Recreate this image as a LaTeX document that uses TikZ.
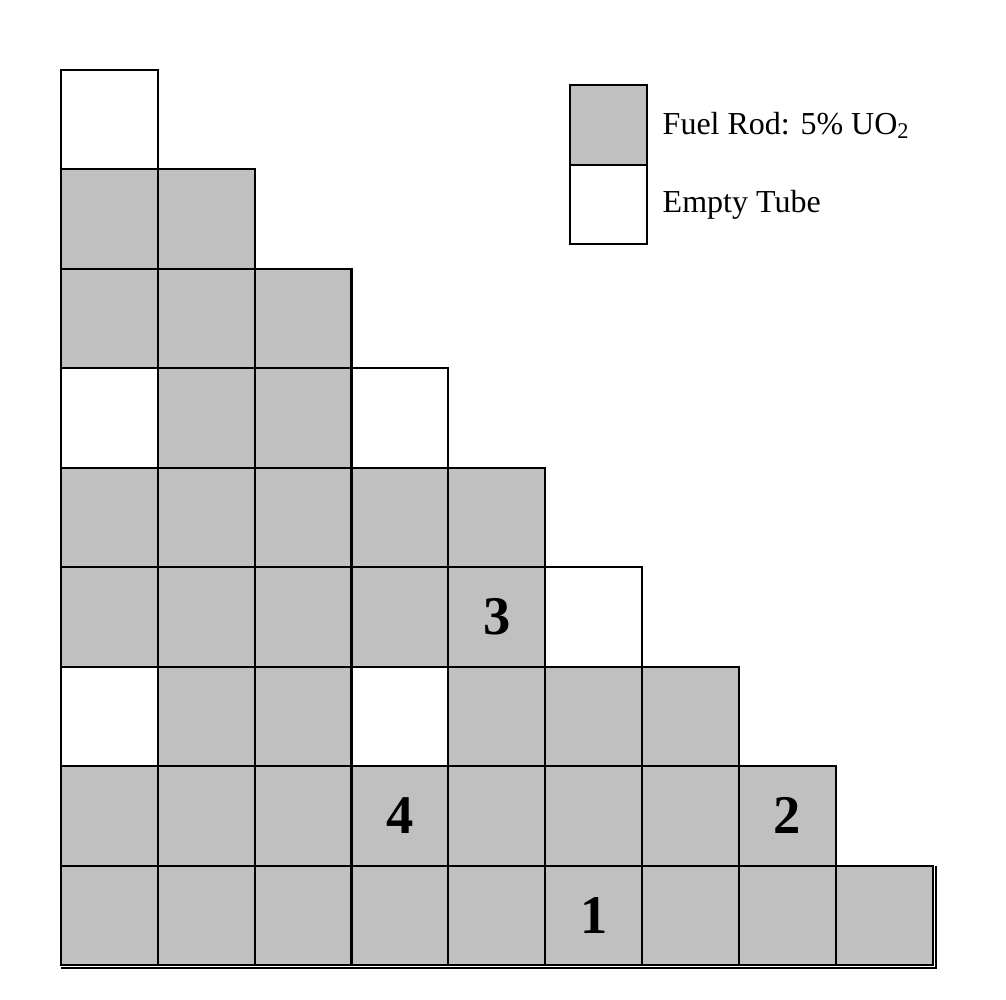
\documentclass[tikz,border=0pt]{standalone}
\usepackage{fontspec}
\setmainfont{Liberation Serif}
\usetikzlibrary{positioning}
\definecolor{rodgray}{RGB}{192,192,192}

\begin{document}
\begin{tikzpicture}[x=0.01cm,y=-0.01cm,node distance=0pt,
        rod/.style={rectangle,draw=black,line width=0.6pt,fill=rodgray,minimum width=0.968cm,minimum height=0.994cm,inner sep=0pt,outer sep=0pt},
        tube/.style={rod,fill=white},
        num/.style={font=\bfseries\fontsize{15.5}{18}\selectfont},
        key/.style={rectangle,draw=black,line width=0.6pt,minimum width=0.77cm,minimum height=0.795cm,inner sep=0pt,outer sep=0pt},
        keytext/.style={anchor=west,inner sep=0pt,font=\fontsize{9.1}{11}\selectfont}
        ]
        \useasboundingbox (0,0) rectangle (1006,1000);
        % row 1
        \node (c00) [tube] at (109.4,119.7) {};
        % row 2
        \node (c10) [rod, below=of c00] {};
        \node (c11) [rod, right=of c10] {};
        % row 3
        \node (c20) [rod, below=of c10] {};
        \node (c21) [rod, right=of c20] {};
        \node (c22) [rod, right=of c21] {};
        % row 4
        \node (c30) [tube, below=of c20] {};
        \node (c31) [rod, right=of c30] {};
        \node (c32) [rod, right=of c31] {};
        \node (c33) [tube, right=of c32] {};
        % row 5
        \node (c40) [rod, below=of c30] {};
        \node (c41) [rod, right=of c40] {};
        \node (c42) [rod, right=of c41] {};
        \node (c43) [rod, right=of c42] {};
        \node (c44) [rod, right=of c43] {};
        % row 6
        \node (c50) [rod, below=of c40] {};
        \node (c51) [rod, right=of c50] {};
        \node (c52) [rod, right=of c51] {};
        \node (c53) [rod, right=of c52] {};
        \node (c54) [rod, right=of c53, num] {3};
        \node (c55) [tube, right=of c54] {};
        % row 7
        \node (c60) [tube, below=of c50] {};
        \node (c61) [rod, right=of c60] {};
        \node (c62) [rod, right=of c61] {};
        \node (c63) [tube, right=of c62] {};
        \node (c64) [rod, right=of c63] {};
        \node (c65) [rod, right=of c64] {};
        \node (c66) [rod, right=of c65] {};
        % row 8
        \node (c70) [rod, below=of c60] {};
        \node (c71) [rod, right=of c70] {};
        \node (c72) [rod, right=of c71] {};
        \node (c73) [rod, right=of c72, num] {4};
        \node (c74) [rod, right=of c73] {};
        \node (c75) [rod, right=of c74] {};
        \node (c76) [rod, right=of c75] {};
        \node (c77) [rod, right=of c76, num] {2};
        % row 9
        \node (c80) [rod, below=of c70] {};
        \node (c81) [rod, right=of c80] {};
        \node (c82) [rod, right=of c81] {};
        \node (c83) [rod, right=of c82] {};
        \node (c84) [rod, right=of c83] {};
        \node (c85) [rod, right=of c84, num] {1};
        \node (c86) [rod, right=of c85] {};
        \node (c87) [rod, right=of c86] {};
        \node (c88) [rod, right=of c87] {};
        \draw[line width=0.6pt] ([yshift=-0.03cm]c80.south west) -| ([xshift=0.03cm]c88.north east);
        % legend
        \node (kfuel) [key,fill=rodgray] at (608.5,125) {};
        \node (kempty) [key,fill=white,below=of kfuel] {};
        \node (tfuel) [keytext,right=0.15cm of kfuel] {Fuel Rod: 5\% UO\textsubscript{2}};
        \node (tempty) [keytext,right=0.15cm of kempty] {Empty Tube};
    \end{tikzpicture}
\end{document}
